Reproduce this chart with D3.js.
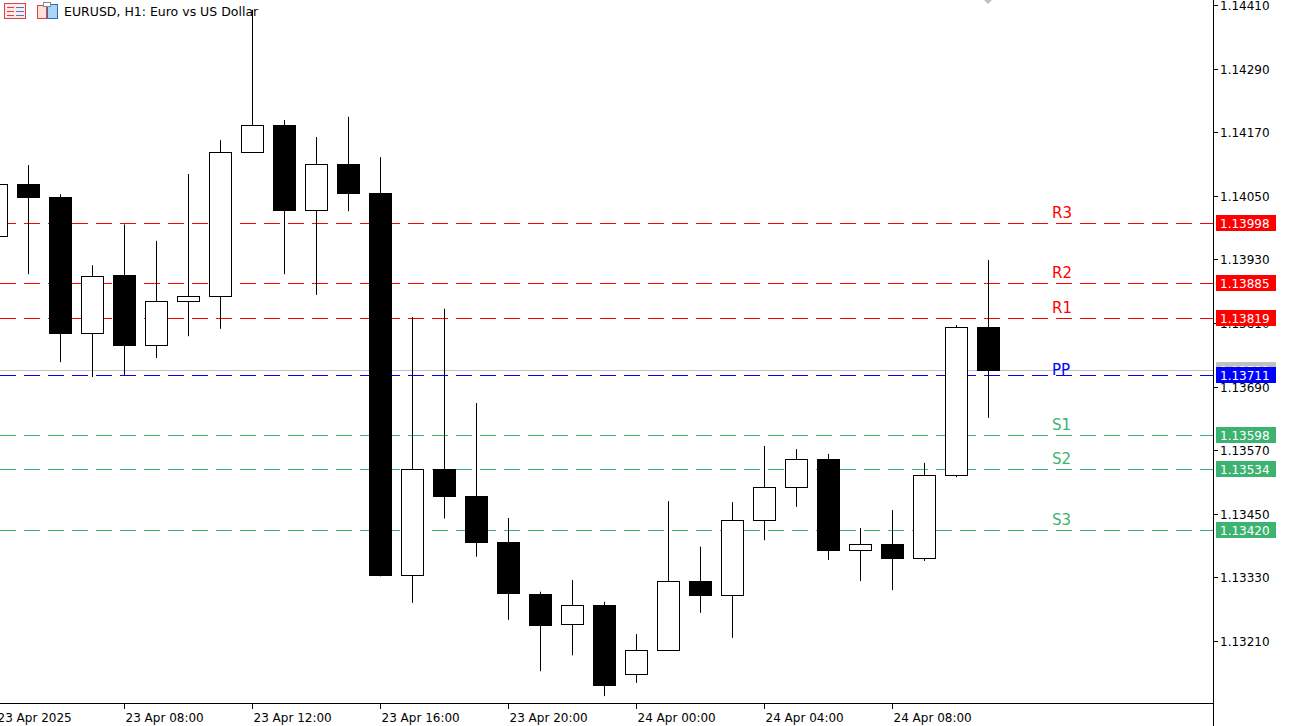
<!DOCTYPE html>
<html><head><meta charset="utf-8">
<script src="https://cdn.jsdelivr.net/npm/d3@7"></script>
<style>body{margin:0;background:#fff}svg{display:block;font-family:"DejaVu Sans",sans-serif}</style>
</head><body><div id="chart"></div>
<script>
// hourly bars, 23 Apr 2025 04:00 .. 24 Apr 2025 11:00
var times = ["2025-04-23T04:00","2025-04-23T05:00","2025-04-23T06:00","2025-04-23T07:00","2025-04-23T08:00","2025-04-23T09:00","2025-04-23T10:00","2025-04-23T11:00","2025-04-23T12:00","2025-04-23T13:00","2025-04-23T14:00","2025-04-23T15:00","2025-04-23T16:00","2025-04-23T17:00","2025-04-23T18:00","2025-04-23T19:00","2025-04-23T20:00","2025-04-23T21:00","2025-04-23T22:00","2025-04-23T23:00","2025-04-24T00:00","2025-04-24T01:00","2025-04-24T02:00","2025-04-24T03:00","2025-04-24T04:00","2025-04-24T05:00","2025-04-24T06:00","2025-04-24T07:00","2025-04-24T08:00","2025-04-24T09:00","2025-04-24T10:00","2025-04-24T11:00"];
var opens  = [1.13974,1.14072,1.14047,1.13791,1.13901,1.13768,1.13851,1.13861,1.14133,1.14184,1.14023,1.14110,1.14055,1.13334,1.13534,1.13483,1.13396,1.13299,1.13241,1.13277,1.13147,1.13193,1.13323,1.13297,1.13438,1.13500,1.13553,1.13382,1.13393,1.13366,1.13523,1.13802];
var highs  = [1.14087,1.14108,1.14053,1.13919,1.13996,1.13965,1.14091,1.14155,1.14401,1.14193,1.14161,1.14199,1.14123,1.13821,1.13837,1.13659,1.13442,1.13303,1.13325,1.13284,1.13223,1.13474,1.13388,1.13472,1.13578,1.13572,1.13563,1.13423,1.13457,1.13546,1.13806,1.13929];
var lows   = [1.13966,1.13902,1.13736,1.13708,1.13712,1.13744,1.13785,1.13799,1.14131,1.13902,1.13863,1.14021,1.13332,1.13282,1.13441,1.13369,1.13250,1.13153,1.13183,1.13106,1.13131,1.13193,1.13263,1.13216,1.13400,1.13463,1.13363,1.13323,1.13306,1.13361,1.13519,1.13631];
var closes = [1.14072,1.14047,1.13791,1.13899,1.13768,1.13851,1.13861,1.14133,1.14184,1.14023,1.14110,1.14055,1.13334,1.13534,1.13483,1.13396,1.13299,1.13241,1.13277,1.13127,1.13193,1.13323,1.13297,1.13438,1.13500,1.13553,1.13382,1.13393,1.13366,1.13523,1.13802,1.13721];

var pivotNames  = ["R3","R2","R1","PP","S1","S2","S3"];
var pivotValues = [1.13998,1.13885,1.13819,1.13711,1.13598,1.13534,1.13420];
var pivotColors = ["#ff0000","#ff0000","#ff0000","#0000ff","#3cb371","#3cb371","#3cb371"];

var priceTicks = [1.14410,1.14290,1.14170,1.14050,1.13930,1.13810,1.13690,1.13570,1.13450,1.13330,1.13210];
var timeTicks  = ["2025-04-23T04:00","2025-04-23T08:00","2025-04-23T12:00","2025-04-23T16:00","2025-04-23T20:00","2025-04-24T00:00","2025-04-24T04:00","2025-04-24T08:00"];
var timeLabels = ["23 Apr 2025","23 Apr 08:00","23 Apr 12:00","23 Apr 16:00","23 Apr 20:00","24 Apr 00:00","24 Apr 04:00","24 Apr 08:00"];
var lastPrice = 1.13721;

var W = 1291, H = 726, plotR = 1213, plotB = 703;
var parse = d3.timeParse("%Y-%m-%dT%H:%M");

var bars = times.map(function (t, i) {
    return {t: parse(t), o: opens[i], h: highs[i], l: lows[i], c: closes[i]};
});

var x = d3.scaleTime()
    .domain([parse("2025-04-23T04:00"), parse("2025-04-24T08:00")])
    .range([-4, 892]);
var y = d3.scaleLinear().domain([1.13210, 1.14410]).range([641, 5]);

var svg = d3.select("#chart").append("svg").attr("width", W).attr("height", H);

var plot = svg.append("g");
plot.append("defs").append("clipPath").attr("id", "clip")
    .append("rect").attr("x", 0).attr("y", 0).attr("width", plotR).attr("height", plotB);
var g = plot.append("g").attr("clip-path", "url(#clip)");

// pivot lines
g.selectAll(".pv").data(pivotValues).enter().append("line")
    .attr("x1", 0).attr("x2", plotR)
    .attr("y1", d => Math.round(y(d)) + 0.5).attr("y2", d => Math.round(y(d)) + 0.5)
    .attr("stroke", (d, i) => pivotColors[i])
    .attr("stroke-dasharray", "16,8");

// last price line
g.append("line").attr("x1", 0).attr("x2", plotR)
    .attr("y1", Math.round(y(lastPrice)) + 0.5).attr("y2", Math.round(y(lastPrice)) + 0.5)
    .attr("stroke", "#c0c0c0");

g.selectAll(".pvl").data(pivotNames).enter().append("text")
    .attr("x", 1052).attr("y", (d, i) => y(pivotValues[i]) - (d === "PP" ? 0 : 5))
    .attr("font-size", 15).attr("fill", (d, i) => pivotColors[i])
    .text(d => d);

// candles
var bw = 22;
var c = g.selectAll(".c").data(bars).enter().append("g");
c.append("line")
    .attr("x1", d => Math.round(x(d.t)) + 0.5).attr("x2", d => Math.round(x(d.t)) + 0.5)
    .attr("y1", d => y(d.h)).attr("y2", d => y(d.l))
    .attr("stroke", "#000");
c.append("rect")
    .attr("x", d => Math.round(x(d.t)) - bw / 2 + 0.5)
    .attr("y", d => Math.round(y(Math.max(d.o, d.c))) + 0.5)
    .attr("width", bw)
    .attr("height", d => Math.max(2, Math.round(y(Math.min(d.o, d.c)) - y(Math.max(d.o, d.c)))))
    .attr("fill", d => d.c >= d.o ? "#fff" : "#000")
    .attr("stroke", "#000");

// axes
svg.append("line").attr("x1", plotR + 0.5).attr("x2", plotR + 0.5).attr("y1", 0).attr("y2", H).attr("stroke", "#000");
svg.append("line").attr("x1", 0).attr("x2", plotR).attr("y1", plotB + 0.5).attr("y2", plotB + 0.5).attr("stroke", "#000");

var ya = svg.append("g");
priceTicks.forEach(function (p) {
    var yy = Math.round(y(p)) + 0.5;
    ya.append("line").attr("x1", plotR).attr("x2", plotR + 5).attr("y1", yy).attr("y2", yy).attr("stroke", "#000");
    ya.append("text").attr("x", plotR + 7).attr("y", yy + 4).attr("font-size", 12).attr("fill", "#000")
        .text(d3.format(".5f")(p));
});

var xa = svg.append("g");
timeTicks.forEach(function (t, i) {
    var xx = Math.round(x(parse(t))) + 0.5;
    xa.append("line").attr("x1", xx).attr("x2", xx).attr("y1", plotB).attr("y2", plotB + 6).attr("stroke", "#000");
    xa.append("text").attr("x", Math.max(xx + 1, -4)).attr("y", plotB + 19).attr("font-size", 12).attr("fill", "#000")
        .text(timeLabels[i]);
});

// axis labels for price levels
function tag(p, col) {
    var yy = Math.round(y(p));
    svg.append("rect").attr("x", plotR + 3).attr("y", yy - 8).attr("width", 60).attr("height", 16).attr("fill", col);
    svg.append("text").attr("x", plotR + 7).attr("y", yy + 5).attr("font-size", 12).attr("fill", "#fff")
        .text(d3.format(".5f")(p));
}
tag(lastPrice, "#c0c0c0");
pivotValues.forEach((p, i) => tag(p, pivotColors[i]));

// header
var hd = svg.append("g");
hd.append("rect").attr("x", 4.5).attr("y", 3.5).attr("width", 21).attr("height", 15).attr("fill", "#fdeaea").attr("stroke", "#e04040");
[7.5, 11.5, 15.5].forEach(function (yy) {
    hd.append("line").attr("x1", 7).attr("x2", 14).attr("y1", yy).attr("y2", yy).attr("stroke", "#e04040");
    hd.append("line").attr("x1", 16).attr("x2", 24).attr("y1", yy).attr("y2", yy).attr("stroke", "#3a7fd0");
});
hd.append("rect").attr("x", 37.5).attr("y", 5.5).attr("width", 9).attr("height", 13).attr("fill", "#fde0d8").attr("stroke", "#e04040");
hd.append("rect").attr("x", 47.5).attr("y", 4.5).attr("width", 10).attr("height", 14).attr("fill", "#a8d4f5").attr("stroke", "#2a6fb8");
hd.append("rect").attr("x", 43.5).attr("y", 2.5).attr("width", 7).attr("height", 4).attr("fill", "#fff").attr("stroke", "#888");
hd.append("text").attr("x", 64).attr("y", 16).attr("font-size", 12.5).attr("fill", "#000")
    .text("EURUSD, H1:  Euro vs US Dollar");
svg.append("path").attr("d", "M984,0 L992,0 L988,4 Z").attr("fill", "#c0c0c0");
</script></body></html>
